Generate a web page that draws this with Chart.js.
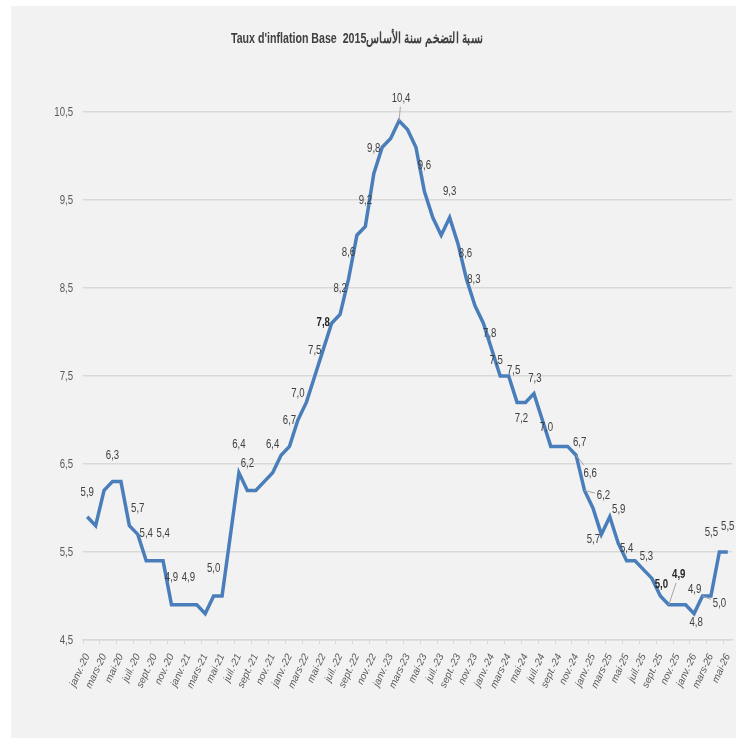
<!DOCTYPE html>
<html>
<head>
<meta charset="utf-8">
<script src="https://cdn.jsdelivr.net/npm/chart.js@4.4.1/dist/chart.umd.min.js"></script>
<style>
  html, body { margin: 0; padding: 0; background: #ffffff; }
  canvas { display: block; }
</style>
</head>
<body>
<canvas id="myChart" width="736" height="738"></canvas>
<script>
// monthly inflation, Jan 2020 -> May 2026
const months = [
  "janv.-20", "févr.-20", "mars-20", "avr.-20", "mai-20", "juin-20", "juil.-20", "août-20", "sept.-20", "oct.-20", "nov.-20", "déc.-20",
  "janv.-21", "févr.-21", "mars-21", "avr.-21", "mai-21", "juin-21", "juil.-21", "août-21", "sept.-21", "oct.-21", "nov.-21", "déc.-21",
  "janv.-22", "févr.-22", "mars-22", "avr.-22", "mai-22", "juin-22", "juil.-22", "août-22", "sept.-22", "oct.-22", "nov.-22", "déc.-22",
  "janv.-23", "févr.-23", "mars-23", "avr.-23", "mai-23", "juin-23", "juil.-23", "août-23", "sept.-23", "oct.-23", "nov.-23", "déc.-23",
  "janv.-24", "févr.-24", "mars-24", "avr.-24", "mai-24", "juin-24", "juil.-24", "août-24", "sept.-24", "oct.-24", "nov.-24", "déc.-24",
  "janv.-25", "févr.-25", "mars-25", "avr.-25", "mai-25", "juin-25", "juil.-25", "août-25", "sept.-25", "oct.-25", "nov.-25", "déc.-25",
  "janv.-26", "févr.-26", "mars-26", "avr.-26", "mai-26"
];

const inflation = [
  5.9, 5.8, 6.2, 6.3, 6.3, 5.8, 5.7, 5.4, 5.4, 5.4, 4.9, 4.9,
  4.9, 4.9, 4.8, 5.0, 5.0, 5.7, 6.4, 6.2, 6.2, 6.3, 6.4, 6.6,
  6.7, 7.0, 7.2, 7.5, 7.8, 8.1, 8.2, 8.6, 9.1, 9.2, 9.8, 10.1,
  10.2, 10.4, 10.3, 10.1, 9.6, 9.3, 9.1, 9.3, 9.0, 8.6, 8.3, 8.1,
  7.8, 7.5, 7.5, 7.2, 7.2, 7.3, 7.0, 6.7, 6.7, 6.7, 6.6, 6.2,
  6.0, 5.7, 5.9, 5.6, 5.4, 5.4, 5.3, 5.2, 5.0, 4.9, 4.9, 4.9,
  4.8, 5.0, 5.0, 5.5, 5.5
];

const yMin = 4.5;
const yMax = 10.5;
const yStep = 1;

const title = "Taux d'inflation Base  2015نسبة التضخم سنة الأساس";

// which points carry a value label, and where the label sits (px from the point)
const labelOffsets = {
  0: [0, -24], 3: [0, -26], 6: [0, -26], 7: [0, -27], 9: [0, -27], 10: [0, -27], 12: [0, -27], 15: [0, -28],
  18: [0, -28], 19: [0, -27], 22: [0, -28], 24: [0, -26], 25: [0, -27], 27: [0, -26], 28: [0, -27],
  30: [0, -26], 31: [0, -27], 33: [0, -26], 34: [0, -25], 37: [2, -22], 40: [0, -26], 43: [0, -26],
  45: [-1, -26], 46: [-1, -26], 48: [-2, -16], 49: [-4, -16], 50: [5, -6], 52: [-4, 16], 53: [1, -15],
  54: [4, 7], 57: [12, -4], 58: [14, 18], 59: [19, 5], 61: [-8, 5], 62: [9, -7], 64: [0, -12],
  66: [3, -13], 68: [1, -12], 69: [10, -30], 71: [9, -15], 72: [2, 9], 73: [17, 7], 75: [-8, -20], 76: [0, -26]
};
const leaderLabels = [37, 58, 59, 69, 73];
const boldLabels = [28, 68, 69];

const sans = '"Liberation Sans", Arial, sans-serif';
const squeeze = 0.74; // narrow look of the original font
const fmt = v => v.toFixed(1).replace(".", ",");

function narrowText(ctx, text, x, y, align, k) {
  ctx.save();
  ctx.translate(x, y);
  ctx.scale(k, 1);
  ctx.textAlign = align;
  ctx.fillText(text, 0, 0);
  ctx.restore();
}

const panelPlugin = {
  id: "panel",
  beforeDraw(chart) {
    const ctx = chart.ctx;
    ctx.save();
    ctx.fillStyle = "#f2f2f2";
    ctx.fillRect(11, 6, chart.width - 11, chart.height - 6);
    ctx.restore();
  },
  afterDraw(chart) {
    const ctx = chart.ctx;
    ctx.save();
    ctx.font = "bold 15px " + sans;
    ctx.fillStyle = "#404040";
    ctx.textBaseline = "alphabetic";
    ctx.direction = "ltr";
    const w = ctx.measureText(title).width;
    narrowText(ctx, title, 357, 43, "center", 252 / w);

    // y tick labels, drawn narrow
    const ys = chart.scales.y;
    ctx.font = "13px " + sans;
    ctx.fillStyle = "#595959";
    ctx.textBaseline = "middle";
    ys.ticks.forEach(t => {
      narrowText(ctx, fmt(t.value), ys.right - 10, ys.getPixelForValue(t.value), "right", squeeze);
    });
    ctx.restore();
  }
};

const valueLabels = {
  id: "valueLabels",
  afterDatasetsDraw(chart) {
    const ctx = chart.ctx;
    const meta = chart.getDatasetMeta(0);
    ctx.save();
    ctx.textBaseline = "middle";
    Object.keys(labelOffsets).forEach(key => {
      const i = Number(key);
      const pt = meta.data[i];
      const off = labelOffsets[i];
      const lx = pt.x + off[0];
      const ly = pt.y + off[1];
      const bold = boldLabels.includes(i);
      ctx.font = (bold ? "bold " : "") + "13px " + sans;
      const text = fmt(inflation[i]);
      if (leaderLabels.includes(i)) {
        const dx = lx - pt.x, dy = ly - pt.y;
        const hw = ctx.measureText(text).width * squeeze / 2 + 2, hh = 8;
        const t = Math.min(dx !== 0 ? hw / Math.abs(dx) : 1, dy !== 0 ? hh / Math.abs(dy) : 1, 1);
        ctx.strokeStyle = "#a6a6a6";
        ctx.lineWidth = 1;
        ctx.beginPath();
        ctx.moveTo(pt.x, pt.y);
        ctx.lineTo(lx - dx * t, ly - dy * t);
        ctx.stroke();
      }
      ctx.fillStyle = bold ? "#262626" : "#404040";
      narrowText(ctx, text, lx, ly, "center", squeeze);
    });
    ctx.restore();
  }
};

const chart = new Chart(document.getElementById("myChart"), {
  type: "line",
  data: {
    labels: months,
    datasets: [{
      data: inflation,
      borderColor: "#4a7ebb",
      borderWidth: 3.5,
      pointRadius: 0,
      tension: 0,
      fill: false
    }]
  },
  options: {
    responsive: false,
    animation: false,
    devicePixelRatio: 1,
    layout: { padding: { top: 112, right: 4, bottom: 0, left: 0 } },
    plugins: {
      legend: { display: false },
      title: { display: false },
      tooltip: { enabled: false }
    },
    scales: {
      x: {
        type: "category",
        offset: true,
        grid: {
          offset: true,
          drawOnChartArea: false,
          drawTicks: true,
          tickLength: 4,
          color: c => (c.index % 2 === 0 ? "#d9d9d9" : "rgba(0,0,0,0)"),
          lineWidth: 1
        },
        border: { display: true, color: "#d9d9d9", width: 1.5 },
        ticks: {
          autoSkip: false,
          minRotation: 65,
          maxRotation: 65,
          padding: 8,
          color: "#595959",
          font: { family: sans, size: 10, style: "italic" },
          callback: function (value, index) {
            return index % 2 === 0 ? this.getLabelForValue(value) : "";
          }
        },
        afterFit: s => { s.height = 98; s.paddingLeft = 0; s.paddingRight = 0; }
      },
      y: {
        min: yMin,
        max: yMax,
        grid: { color: "#d9d9d9", lineWidth: 1.5, drawTicks: false },
        border: { display: false },
        ticks: {
          stepSize: yStep,
          padding: 10,
          color: "rgba(0,0,0,0)",
          font: { family: sans, size: 12 },
          callback: v => fmt(v)
        },
        afterFit: s => { s.width = 83; }
      }
    }
  },
  plugins: [panelPlugin, valueLabels]
});
</script>
</body>
</html>
